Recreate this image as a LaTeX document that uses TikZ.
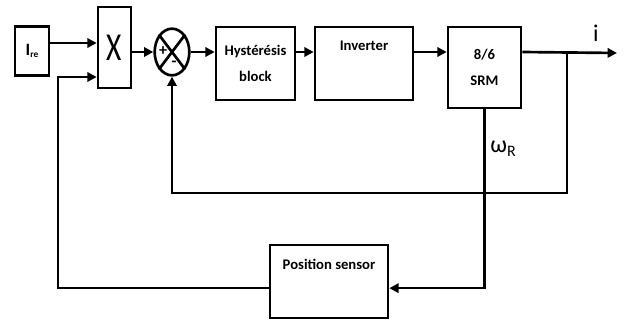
\documentclass[tikz,border=0pt]{standalone}
\usepackage{fontspec}
\setmainfont{Carlito}
\usetikzlibrary{shapes.geometric, arrows.meta, positioning, calc}
\tikzset{
  blk/.style = {draw=black, fill=white, line width=2pt, inner sep=2pt,
    font=\bfseries\fontsize{11}{20}\selectfont, align=center},
  soma/.style = {ellipse, draw=black, line width=2pt, inner sep=0pt,
    minimum width=26pt, minimum height=35pt},
  seta/.style = {-{Triangle[length=7pt,width=7pt]}, line width=2pt},
  lig/.style = {line width=2pt},
  rot/.style = {font=\fontsize{18}{18}\selectfont, inner sep=0pt},
  sinal/.style = {font=\bfseries\fontsize{12}{12}\selectfont, inner sep=0pt}
}

\begin{document}
\begin{tikzpicture}[x=0.75pt, y=-0.75pt]
  \useasboundingbox (0,0) rectangle (626,321);
  \node [blk, minimum width=25.5pt, minimum height=36.75pt] (ire) at (32,51)
    {\fontsize{13}{13}\selectfont I\raisebox{-2pt}{\fontsize{7}{7}\selectfont re}};
  \node [blk, minimum width=24.75pt, minimum height=60.75pt,
    font=\fontsize{22}{22}\selectfont] (mul) at (114.5,47.5)
    {\scalebox{1}[1.35]{X}};
  \node [soma] (sum) at (172,52) {};
  \draw [lig] (sum.north west) -- (sum.south east);
  \draw [lig] (sum.north east) -- (sum.south west);
  \node [sinal] (mais) at (163,51) {+};
  \node [sinal] (menos) at (174,64) {-};
  \node [blk, minimum width=59.25pt, minimum height=54.75pt] (hys) at (255.5,63.5)
    {Hystérésis\\block};
  \node [blk, minimum width=73.5pt, minimum height=54.75pt] (inv) at (364,63.5)
    {Inverter\\\strut};
  \node [blk, minimum width=54.75pt, minimum height=60.75pt] (srm) at (484.5,67.5)
    {8/6\\SRM};
  \node [blk, minimum width=88.5pt, minimum height=54.75pt] (pos) at (329,281.5)
    {Position sensor\\\strut};
  \node [rot] (corr) at (596,33) {i};
  \node [rot] (vel) at (503,149)
    {ω\raisebox{-3pt}{\fontsize{12}{12}\selectfont R}};
  % forward path
  \draw [seta] ([yshift=6pt]ire.east) -- ([yshift=6pt]ire.east -| mul.west);
  \draw [seta] (mul.east |- sum) -- (sum.west);
  \draw [seta] (sum.east) -- (sum.east -| hys.west);
  \draw [seta] (hys.east |- sum) -- (inv.west |- sum);
  \draw [seta] (inv.east |- sum) -- (srm.west |- sum);
  \coordinate (saida) at (617,53);
  \coordinate (ramo) at (567,53);
  \draw [seta] (srm.east |- sum) -- (saida);
  % feedback loops
  \draw [seta] (ramo) -- ++(0,140) -| (sum.south);
  \draw [seta] (srm.south) |- ([yshift=-5pt]pos.east);
  \coordinate (c1) at (58,77);
  \draw [seta] ([yshift=-5pt]pos.west) -| (c1) -- (c1 -| mul.west);
\end{tikzpicture}
\end{document}
